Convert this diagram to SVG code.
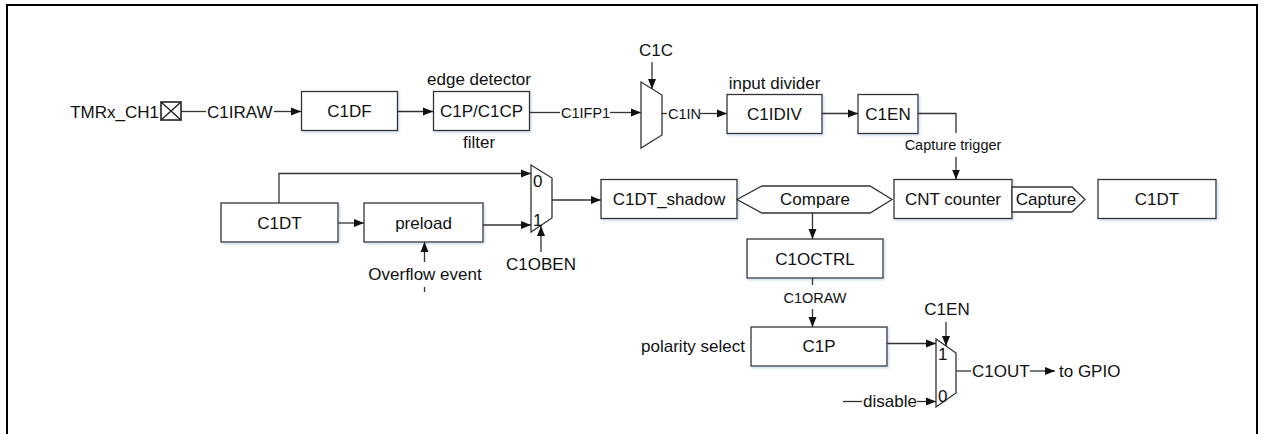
<svg xmlns="http://www.w3.org/2000/svg" width="1263" height="434" viewBox="0 0 1263 434">
<defs>
<marker id="arr" markerUnits="userSpaceOnUse" markerWidth="10" markerHeight="10" refX="10" refY="5" orient="auto">
<path d="M0,1 L10,5 L0,9 Z" fill="#111"/>
</marker>
<filter id="sh" x="-10%" y="-20%" width="130%" height="160%">
<feDropShadow dx="1.2" dy="1.5" stdDeviation="0.8" flood-color="#9db8e0" flood-opacity="0.55"/>
</filter>
<style>
.box{fill:#fff;stroke:#333;stroke-width:1.3;filter:url(#sh)}
.mux{fill:#fff;stroke:#333;stroke-width:1.3}
.ln{fill:none;stroke:#333;stroke-width:1.3}
.ar{fill:none;stroke:#333;stroke-width:1.3;marker-end:url(#arr)}
text{font-family:"Liberation Sans",Arial,sans-serif;fill:#111}
.t{font-size:17px}
.s{font-size:14.5px}
.c{text-anchor:middle}
.e{text-anchor:end}
</style>
</defs>
<rect x="7" y="5" width="1250" height="440" fill="#fff" stroke="#000" stroke-width="2"/>

<g id="pin">
<rect x="161" y="102" width="20" height="18" fill="#fff" stroke="#222" stroke-width="1.6"/>
<path d="M161,102 L181,120 M181,102 L161,120" stroke="#222" stroke-width="1.4"/>
<text class="t e" x="159" y="118">TMRx_CH1</text>
</g>
<g id="c1df"><rect class="box" x="301.5" y="91.5" width="96" height="39"/><text class="t c" x="349.5" y="117">C1DF</text></g>
<g id="c1pc1cp"><rect class="box" x="433.5" y="91.5" width="96" height="39"/><text class="t c" x="481.5" y="117">C1P/C1CP</text>
<text class="t c" x="479" y="85">edge detector</text><text class="t c" x="479" y="148">filter</text></g>
<g id="mux1"><polygon class="mux" points="641,82 662,95 662,135 641,148"/><text class="t c" x="656" y="56">C1C</text></g>
<g id="c1idiv"><rect class="box" x="727" y="94.5" width="95" height="39"/><text class="t c" x="774.5" y="120">C1IDIV</text>
<text class="t c" x="774.5" y="89">input divider</text></g>
<g id="c1en"><rect class="box" x="858" y="94.5" width="60" height="39"/><text class="t c" x="888" y="120">C1EN</text></g>

<g id="c1dt_left"><rect class="box" x="221" y="203" width="117" height="39"/><text class="t c" x="279.5" y="228.5">C1DT</text></g>
<g id="preload"><rect class="box" x="364" y="203" width="119" height="39"/><text class="t c" x="423.5" y="228.5">preload</text>
<text class="t c" x="425" y="280">Overflow event</text></g>
<g id="mux2"><polygon class="mux" points="531,165 552,178 552,218 531,232"/>
<text class="t" x="533" y="187">0</text><text class="t" x="533" y="226">1</text>
<text class="t c" x="541" y="270">C1OBEN</text></g>
<g id="c1dt_shadow"><rect class="box" x="601" y="179.5" width="136" height="39"/><text class="t c" x="669" y="205">C1DT_shadow</text></g>
<g id="compare"><polygon class="mux" points="737,199.5 762,186 870,186 892,199.5 870,213 762,213"/><text class="t c" x="815" y="205">Compare</text></g>
<g id="cnt"><rect class="box" x="894" y="179.5" width="118" height="39"/><text class="t c" x="953" y="205">CNT counter</text></g>
<g id="capture"><polygon class="mux" points="1012,187 1072,187 1085,199.5 1072,212 1012,212"/><text class="t c" x="1046" y="205">Capture</text></g>
<g id="c1dt_right"><rect class="box" x="1098" y="179.5" width="118" height="39"/><text class="t c" x="1157" y="205">C1DT</text></g>
<g id="c1octrl"><rect class="box" x="747" y="239" width="136" height="39"/><text class="t c" x="815" y="265">C1OCTRL</text></g>
<g id="c1p"><rect class="box" x="751" y="327" width="136" height="39"/><text class="t c" x="819" y="352">C1P</text>
<text class="t e" x="745" y="352">polarity select</text></g>
<g id="mux3"><polygon class="mux" points="936,339 956,353 956,393 936,407"/>
<text class="t" x="938" y="360">1</text><text class="t" x="938" y="402">0</text>
<text class="t c" x="947" y="315">C1EN</text></g>
<g id="gpio"><text class="t" x="1059" y="377">to GPIO</text></g>

<g id="connectors">
<line class="ln" x1="181" y1="111.5" x2="206" y2="111.5"/>
<text class="t" x="207" y="117.5">C1IRAW</text>
<line class="ar" x1="274" y1="111.5" x2="301" y2="111.5"/>
<line class="ar" x1="397.5" y1="111.5" x2="433" y2="111.5"/>
<line class="ln" x1="529.5" y1="112.5" x2="560" y2="112.5"/>
<text class="s" x="561" y="117.5">C1IFP1</text>
<line class="ar" x1="610" y1="112.5" x2="641" y2="112.5"/>
<line class="ar" x1="652" y1="62" x2="652" y2="89"/>
<line class="ln" x1="662" y1="113.5" x2="667" y2="113.5"/>
<text class="s" x="668" y="118.5">C1IN</text>
<line class="ar" x1="700" y1="113.5" x2="727" y2="113.5"/>
<line class="ar" x1="822" y1="113.5" x2="858" y2="113.5"/>
<path class="ln" d="M918,113.5 H956 V133"/>
<text class="s c" x="953" y="150">Capture trigger</text>
<line class="ar" x1="956" y1="157" x2="956" y2="179.5"/>
<path class="ar" d="M279,203 V173.5 H531"/>
<line class="ar" x1="338" y1="223" x2="364" y2="223"/>
<line class="ar" x1="483" y1="225" x2="531" y2="225"/>
<line class="ar" x1="541" y1="252" x2="541" y2="226"/>
<line class="ar" x1="424.5" y1="262" x2="424.5" y2="242"/>
<line class="ln" x1="424.5" y1="287" x2="424.5" y2="292"/>
<line class="ar" x1="552" y1="200" x2="601" y2="200"/>
<line class="ar" x1="812.5" y1="213" x2="812.5" y2="239"/>
<line class="ln" x1="812.5" y1="278" x2="812.5" y2="285"/>
<text class="s c" x="815" y="303">C1ORAW</text>
<line class="ar" x1="812.5" y1="309" x2="812.5" y2="327"/>
<line class="ar" x1="887" y1="343.5" x2="936" y2="343.5"/>
<line class="ar" x1="946" y1="322" x2="946" y2="346"/>
<line class="ln" x1="843" y1="401.5" x2="862" y2="401.5"/>
<text class="t" x="863" y="407">disable</text>
<line class="ar" x1="917" y1="401.5" x2="936" y2="401.5"/>
<line class="ln" x1="956" y1="371" x2="971" y2="371"/>
<text class="t" x="972" y="377">C1OUT</text>
<line class="ar" x1="1030" y1="371" x2="1055" y2="371"/>
</g>
</svg>
